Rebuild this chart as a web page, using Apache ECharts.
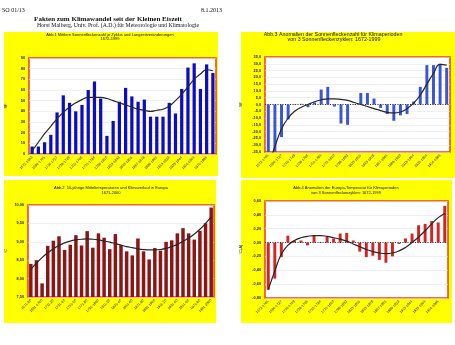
<!DOCTYPE html>
<html>
<head>
<meta charset="utf-8">
<script src="https://cdn.jsdelivr.net/npm/echarts@6/dist/echarts.min.js"></script>
<style>
  html, body { margin: 0; padding: 0; background: #fff; }
  #c { width: 455px; height: 345px; }
</style>
</head>
<body>
<div id="c"></div>
<script>
// Abb.1: mean sunspot number per solar cycle
const cycleLabels = [
  "1672-1683","1683-1694","1694-1705","1705-1716","1716-1727","1727-1738",
  "1738-1749","1749-1755","1755-1766","1766-1775","1775-1784","1784-1798",
  "1798-1810","1810-1823","1823-1833","1833-1843","1843-1855","1855-1867",
  "1867-1878","1878-1889","1889-1901","1901-1913","1913-1923","1923-1933",
  "1933-1944","1944-1954","1954-1964","1964-1976","1976-1986","1986-1996"
];
const sunspotMeans = [7, 7, 11, 18, 39, 55, 48, 40, 46, 60, 68, 52, 17, 31, 49,
  62, 54, 49, 51, 35, 35, 35, 48, 38, 61, 81, 85, 61, 84, 76];
const sunspotTrend = [3, 11, 19, 26, 33, 39, 44, 48, 51, 53, 53, 53, 52, 50, 48,
  46, 44, 42, 41, 40, 41, 42, 45, 50, 56, 63, 70, 75, 79, 78];

// Abb.2: 10-year mean temperatures in Europe
const decadeLabels = [
  "1671-80","1681-90","1691-1700","1701-10","1711-20","1721-30","1731-40",
  "1741-50","1751-60","1761-70","1771-80","1781-90","1791-1800","1801-10",
  "1811-20","1821-30","1831-40","1841-50","1851-60","1861-70","1871-80",
  "1881-90","1891-1900","1901-10","1911-20","1921-30","1931-40","1941-50",
  "1951-60","1961-70","1971-80","1981-90","1991-2000"
];
const decadeTemps = [8.40, 8.50, 7.87, 8.89, 9.03, 9.15, 8.78, 8.92, 9.18, 8.90,
  9.29, 8.84, 9.23, 9.11, 8.80, 9.21, 8.91, 8.74, 8.63, 9.09, 8.74, 8.52, 8.83,
  8.76, 9.00, 9.04, 9.23, 9.37, 9.23, 9.06, 9.30, 9.50, 9.93];
const decadeTrend = [8.25, 8.42, 8.57, 8.70, 8.81, 8.90, 8.97, 9.02, 9.05, 9.07,
  9.08, 9.07, 9.05, 9.02, 8.99, 8.95, 8.91, 8.87, 8.84, 8.81, 8.79, 8.78, 8.78,
  8.79, 8.82, 8.87, 8.93, 9.01, 9.10, 9.21, 9.34, 9.50, 9.68];

// Abb.3 / Abb.4: climate periods of three solar cycles
const periodLabels = [
  "1672-1705","1683-1716","1694-1727","1705-1738","1716-1749","1727-1755",
  "1738-1766","1749-1775","1755-1784","1766-1798","1775-1810","1784-1823",
  "1798-1833","1810-1843","1823-1855","1833-1867","1843-1878","1855-1889",
  "1867-1901","1878-1913","1889-1923","1901-1933","1913-1944","1923-1954",
  "1933-1964","1944-1976","1954-1986","1964-1996"
];
const sunspotAnom = [-35, -35, -24, -11, 0.3, 0.5, -2, 1.5, 11, 13, -1.5, -14, -15,
  0.3, 8.5, 8.5, 4.4, -2.5, -7, -12, -8, -7, 2.2, 13, 29, 29, 30, 27];
const sunspotAnomTrend = [-45, -31, -18, -10, -5, -2, 0, 2, 3.5, 4.2, 4.2, 3.8, 3,
  1.5, 0, -1.5, -3, -4.5, -5.8, -6.2, -5.5, -3, 1, 7, 15, 23, 29.5, 29];
const tempAnom = [-0.68, -0.52, -0.21, 0.10, 0.03, 0.03, -0.04, 0.10, 0.005, 0.09,
  0.06, 0.13, 0.14, 0.03, -0.13, -0.21, -0.19, -0.25, -0.29, -0.20, -0.02, 0.06,
  0.13, 0.25, 0.27, 0.31, 0.29, 0.53];
const tempAnomTrend = [-0.68, -0.41, -0.17, -0.04, 0.03, 0.07, 0.09, 0.10, 0.10,
  0.09, 0.07, 0.05, 0.02, -0.02, -0.06, -0.10, -0.13, -0.15, -0.16, -0.15, -0.12,
  -0.07, 0.00, 0.08, 0.17, 0.27, 0.36, 0.42];

const SANS = '"Liberation Sans", Arial, sans-serif';
const SERIF = '"Liberation Serif", "Times New Roman", serif';
const YELLOW = '#ffff00';
const RED_BORDER = '#ee3a2c';
const TREND_COLOR = '#262626';

const comma = (v, d) => v.toFixed(d).replace('.', ',');

const panels = [
  { grid: { left: 29, top: 58, width: 187, height: 96 },
    box: { x: 4, y: 32, width: 214, height: 144 },
    labels: cycleLabels, bars: sunspotMeans, trend: sunspotTrend,
    y: { min: 0, max: 90, interval: 10, fmt: v => String(v), name: 'SF', gap: 21 },
    color: '#0c0cc4', barWidth: '52%', zero: false },
  { grid: { left: 28, top: 205, width: 186, height: 92 },
    box: { x: 4, y: 180, width: 212, height: 143 },
    labels: decadeLabels, bars: decadeTemps, trend: decadeTrend,
    y: { min: 7.5, max: 10, interval: 0.5, fmt: v => comma(v, 2), name: '°C', gap: 20 },
    color: '#8a1616', barWidth: '62%', zero: false },
  { grid: { left: 265, top: 57, width: 185, height: 95 },
    box: { x: 241, y: 32, width: 214, height: 146 },
    labels: periodLabels, bars: sunspotAnom, trend: sunspotAnomTrend,
    y: { min: -35, max: 35, interval: 5, fmt: v => comma(v, 1), name: 'SF', gap: 22 },
    color: '#3a56d8', barWidth: '45%', zero: true },
  { grid: { left: 265, top: 201, width: 183, height: 97 },
    box: { x: 241, y: 180, width: 211, height: 143 },
    labels: periodLabels, bars: tempAnom, trend: tempAnomTrend,
    y: { min: -0.8, max: 0.6, interval: 0.2, fmt: v => comma(v, 2), name: '°C(A)', gap: 22 },
    color: '#d42424', barWidth: '45%', zero: true }
];

// yellow panel frames and white plot areas underneath the charts
const panelBackgrounds = panels.flatMap(p => [
  { type: 'rect', z: -10, silent: true, shape: p.box, style: { fill: YELLOW } },
  { type: 'rect', z: -9, silent: true,
    shape: { x: p.grid.left, y: p.grid.top, width: p.grid.width, height: p.grid.height },
    style: { fill: '#ffffff' } }
]);

const txt = (x, y, text, font, align) => ({
  type: 'text', z: 10, x, y, silent: true,
  style: { text, font, fill: '#111', align: align || 'center', verticalAlign: 'middle' }
});

const option = {
  animation: false,
  backgroundColor: '#ffffff',
  grid: panels.map(p => Object.assign({
    show: true, borderColor: RED_BORDER, borderWidth: 1.5
  }, p.grid)),
  xAxis: panels.map((p, i) => ({
    type: 'category', gridIndex: i, data: p.labels,
    axisLine: { show: false, onZero: false },
    axisTick: { show: false },
    axisLabel: { rotate: 45, interval: 1, fontSize: 3.5, margin: 3, color: '#222', fontFamily: SANS },
    splitLine: { show: false }
  })),
  yAxis: panels.map((p, i) => ({
    type: 'value', gridIndex: i, min: p.y.min, max: p.y.max, interval: p.y.interval,
    name: p.y.name, nameLocation: 'middle', nameGap: p.y.gap, nameRotate: 90,
    nameTextStyle: { fontSize: 4, color: '#222', fontFamily: SANS },
    axisLine: { show: false }, axisTick: { show: false },
    axisLabel: { fontSize: 3.8, margin: 4, color: '#222', fontFamily: SANS, fontWeight: 'bold',
      formatter: p.y.fmt },
    splitLine: { show: true, lineStyle: { color: '#e4e4e4', width: 0.6 } }
  })),
  series: panels.flatMap((p, i) => {
    const bar = {
      type: 'bar', xAxisIndex: i, yAxisIndex: i, data: p.bars, barWidth: p.barWidth,
      itemStyle: { color: p.color }
    };
    if (p.zero) {
      bar.markLine = {
        silent: true, symbol: ['none', 'none'], label: { show: false },
        lineStyle: { color: '#333', type: [1, 1.5], width: 1 },
        data: [{ yAxis: 0 }]
      };
    }
    const line = {
      type: 'line', xAxisIndex: i, yAxisIndex: i, data: p.trend, smooth: true,
      symbol: 'none', z: 5,
      lineStyle: { color: TREND_COLOR, width: 1.2 }
    };
    return [bar, line];
  }),
  graphic: panelBackgrounds.concat([
    // page header
    txt(2, 10, 'SO 01/13', '6px ' + SERIF, 'left'),
    txt(222, 10, '8.1.2013', '6px ' + SERIF, 'right'),
    txt(108, 19, 'Fakten zum Klimawandel seit der Kleinen Eiszeit', 'bold 7px ' + SERIF),
    txt(118, 25.5, 'Horst Malberg, Univ. Prof. (A.D.) für Meteorologie und Klimatologie', '5.8px ' + SERIF),
    // panel titles
    txt(110, 34.5, 'Abb.1 Mittlere Sonnenfleckenzahl je Zyklus und Langzeitveränderungen', '4px ' + SANS),
    txt(110, 38.5, '1672-1999', '4px ' + SANS),
    txt(111, 188, 'Abb.2  10-jährige Mitteltemperaturen und Klimaverlauf in Europa', '4px ' + SANS),
    txt(111, 192.5, '1671-2000', '4px ' + SANS),
    txt(333, 35, 'Abb.3 Anomalien der Sonnenfleckenzahl für Klimaperioden', '5.3px ' + SANS),
    txt(334, 39.5, 'von 3 Sonnenfleckenzyklen: 1672-1999', '5.3px ' + SANS),
    txt(346, 188, 'Abb.4 Anomalien der Europa-Temperatur für Klimaperioden', '4px ' + SANS),
    txt(346, 192.5, 'von 3 Sonnenfleckenzyklen: 1672-1999', '4px ' + SANS)
  ])
};

const chart = echarts.init(document.getElementById('c'), null, { renderer: 'canvas' });
chart.setOption(option);
</script>
</body>
</html>
